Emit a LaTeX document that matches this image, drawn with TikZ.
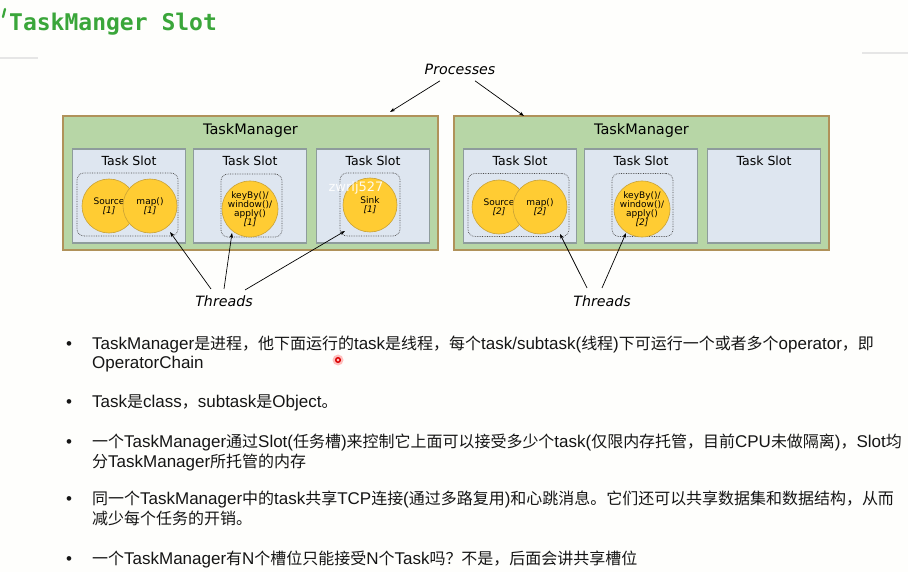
\documentclass[tikz,border=0pt]{standalone}
\usepackage{fontspec}
\usepackage{xcolor}
\usepackage{tikz}
\usetikzlibrary{positioning,arrows.meta}
\setmainfont{DejaVu Sans}
\newfontfamily\armain{Liberation Sans}
\newfontfamily\cjk{Noto Sans CJK SC}[Scale=0.94]
\newfontfamily\titlefont{DejaVu Sans Mono}
\newcommand{\zh}[1]{{\cjk #1}}

\definecolor{pagebg}{HTML}{FEFEFC}
\definecolor{titlegreen}{HTML}{3AA63A}
\definecolor{rulegray}{HTML}{E6E6E6}
\definecolor{tmfill}{HTML}{B7D6A6}
\definecolor{tmline}{HTML}{B0925A}
\definecolor{slotfill}{HTML}{DEE6F0}
\definecolor{slotline}{HTML}{8E9C9C}
\definecolor{opfill}{HTML}{FFCC33}
\definecolor{opline}{HTML}{C9A236}
\definecolor{bodyblack}{HTML}{151515}

\tikzset{
  tmbox/.style={draw=tmline, fill=tmfill, line width=1.3pt,
    minimum width=375pt, minimum height=134pt, inner sep=0pt},
  slotbox/.style={draw=slotline, fill=slotfill, line width=1.1pt,
    minimum width=113pt, minimum height=94pt, inner sep=0pt},
  chain/.style={draw=black!70, densely dotted, line width=0.7pt,
    rounded corners=7pt, minimum height=63pt, inner sep=0pt},
  op/.style={circle, draw=opline, fill=opfill, line width=0.6pt,
    minimum size=54pt, inner sep=0pt, align=center,
    font=\fontsize{9}{8.9}\selectfont},
  ptr/.style={-{Stealth[length=5pt,width=3.5pt]}, line width=0.7pt},
  tag/.style={font=\itshape\fontsize{14.2}{14.2}\selectfont},
  bodytext/.style={anchor=base west, inner sep=0pt, text=bodyblack,
    font=\armain\fontsize{17}{19.5}\selectfont},
}

\begin{document}
\begin{tikzpicture}[x=1pt,y=-1pt]

        % Page
        \useasboundingbox (0,0) rectangle (908,572);
        \fill[pagebg] (0,0) rectangle (908,572);

        % Title
        \draw[titlegreen, line width=2.2pt, line cap=round] (5,9) -- (3,17);
        \node[anchor=base west, inner sep=0pt, text=titlegreen,
            font=\titlefont\bfseries\fontsize{23}{23}\selectfont] (title) at (9,31) {TaskManger Slot};
        \draw[rulegray, line width=1.5pt] (0,58) -- (38,58);
        \draw[rulegray, line width=1.5pt] (862,53) -- (908,53);

        % Task managers with their slots
        \foreach \x/\n in {63/1,454/2} {
            \node[tmbox] (tm\n) at (\x+187.5,183) {};
            \node[font=\fontsize{14.5}{14.5}\selectfont] (tmlbl\n) at (\x+187.5,131) {TaskManager};
            \foreach \dx/\s in {66/1,187/2,310/3} {
                \node[slotbox] (s\n\s) at (\x+\dx,196) {};
                \node[font=\fontsize{12.5}{12.5}\selectfont] (slbl\n\s) at (\x+\dx,161) {Task Slot};
            }
        }

        % Operator chains
        \node[chain, minimum width=101pt] (c11) at (127.5,204.5) {};
        \node[chain, minimum width=61pt] (c12) at (251.5,205.5) {};
        \node[chain, minimum width=60pt] (c13) at (370,204.5) {};
        \node[chain, minimum width=101pt] (c21) at (518.5,205) {};
        \node[chain, minimum width=61pt] (c22) at (642.5,205) {};

        % Operators
        \node[op] (src1) at (109,206) {Source\\\textit{[1]}};
        \node[op] (map1) at (150,206) {map()\\\textit{[1]}};
        \node[op] (key1) at (250,209) {keyBy()/\\window()/\\apply()\\\textit{[1]}};
        \node[op] (sink1) at (370,205) {Sink\\\textit{[1]}};
        \node[op] (src2) at (499,207) {Source\\\textit{[2]}};
        \node[op] (map2) at (540,207) {map()\\\textit{[2]}};
        \node[op] (key2) at (642,209) {keyBy()/\\window()/\\apply()\\\textit{[2]}};

        % Watermark
        \node[text=white, opacity=0.9, inner sep=0pt, font=\fontsize{13}{13}\selectfont] (wm) at (356,188) {zwrlj527};

        % Processes
        \node[tag] (proc) at (460,69) {Processes};
        \coordinate (p1) at (390,112);
        \coordinate (p2) at (524,116);
        \draw[ptr] ([xshift=-20pt,yshift=-3pt]proc.south) -- (p1);
        \draw[ptr] ([xshift=15pt,yshift=-3pt]proc.south) -- (p2);

        % Threads
        \node[tag] (thr1) at (224,301) {Threads};
        \node[tag] (thr2) at (602,301) {Threads};
        \coordinate (t11) at (170,232);
        \coordinate (t12) at (232,233);
        \coordinate (t13) at (345,231);
        \coordinate (t21) at (560,234);
        \coordinate (t22) at (626,233);
        \draw[ptr] ([xshift=-13pt,yshift=3pt]thr1.north) -- (t11);
        \draw[ptr] ([yshift=3pt]thr1.north) -- (t12);
        \draw[ptr] ([xshift=21pt,yshift=2pt]thr1.north) -- (t13);
        \draw[ptr] ([xshift=-15pt,yshift=4pt]thr2.north) -- (t21);
        \draw[ptr] ([yshift=4pt]thr2.north) -- (t22);

        % Bullet points
        \foreach \y in {349,407,447,504,564}
            \node[bodytext] (dot\y) at (66,\y) {•};
        \node[bodytext] (l1) at (92,349) {TaskManager\zh{是进程，他下面运行的}task\zh{是线程，每个}task/subtask(\zh{线程})\zh{下可运行一个或者多个}operator\zh{，即}};
        \node[bodytext] (l1b) at (92,368.5) {OperatorChain};
        \node[bodytext] (l2) at (92,407) {Task\zh{是}class\zh{，}subtask\zh{是}Object\zh{。}};
        \node[bodytext] (l3) at (92,447) {\zh{一个}TaskManager\zh{通过}Slot(\zh{任务槽})\zh{来控制它上面可以接受多少个}task(\zh{仅限内存托管，目前}CPU\zh{未做隔离})\zh{，}Slot\zh{均}};
        \node[bodytext] (l3b) at (92,467) {\zh{分}TaskManager\zh{所托管的内存}};
        \node[bodytext] (l4) at (92,504) {\zh{同一个}TaskManager\zh{中的}task\zh{共享}TCP\zh{连接}(\zh{通过多路复用})\zh{和心跳消息。它们还可以共享数据集和数据结构，从而}};
        \node[bodytext] (l4b) at (92,524) {\zh{减少每个任务的开销。}};
        \node[bodytext] (l5) at (92,564) {\zh{一个}TaskManager\zh{有}N\zh{个槽位只能接受}N\zh{个}Task\zh{吗？不是，后面会讲共享槽位}};

        % Pointer mark
        \fill[red!70, opacity=0.35] (338,360) circle (5.5);
        \draw[red!85!black, line width=1.4pt] (338,360) circle (2.3);

\end{tikzpicture}
\end{document}
